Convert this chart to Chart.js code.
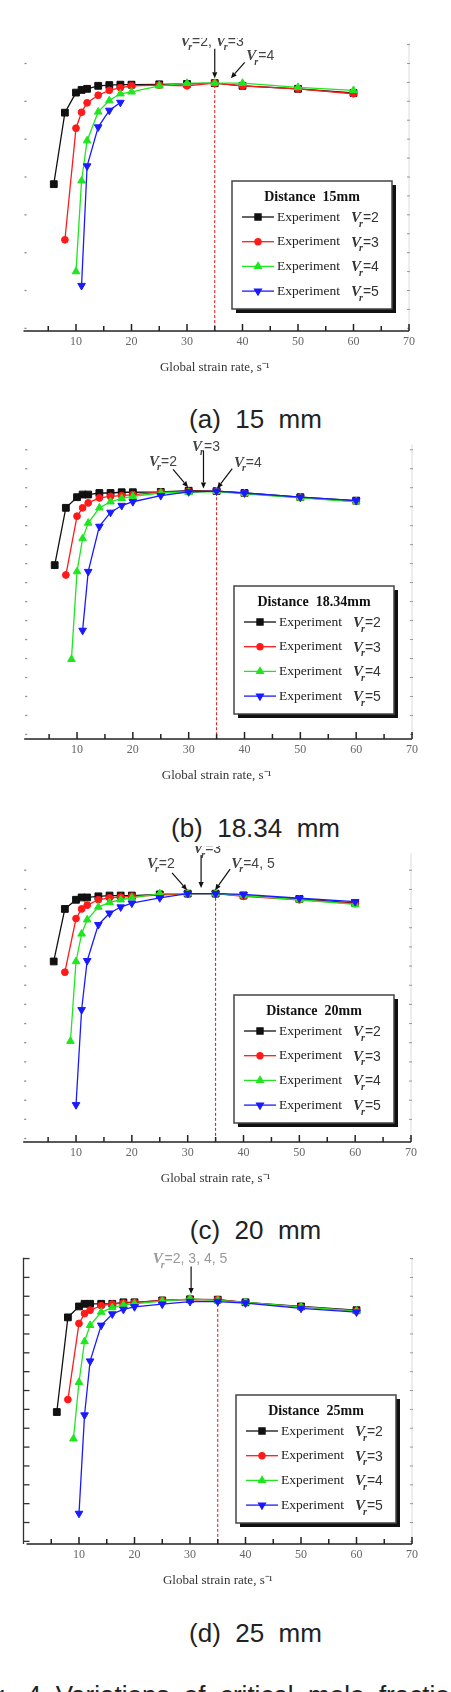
<!DOCTYPE html>
<html lang="en">
<head>
<meta charset="UTF-8">
<title>Critical mole fraction vs global strain rate</title>
<script src="https://cdn.jsdelivr.net/npm/chart.js"></script>
<style>
  * { margin: 0; padding: 0; box-sizing: border-box; }
  html, body { width: 451px; height: 1692px; overflow: hidden; background: #fff; }
  body { position: relative; font-family: 'Liberation Sans', Arial, sans-serif; }
  canvas { position: absolute; left: 0; }
  .caption { position: absolute; left: 30px; width: 451px; text-align: center; font-size: 26px; line-height: 30px; color: #222; white-space: pre; }
  .figtext { position: absolute; left: -31px; top: 1680px; font-size: 26px; line-height: 30px; color: #222; white-space: pre; }
</style>
</head>
<body>
<canvas id="chartA" width="451" height="353" style="top:38px"></canvas>
<div class="caption" style="top:404px">(a)  15  mm</div>
<canvas id="chartB" width="451" height="360" style="top:439px"></canvas>
<div class="caption" style="top:813px">(b)  18.34  mm</div>
<canvas id="chartC" width="451" height="356" style="top:846px"></canvas>
<div class="caption" style="top:1215px">(c)  20  mm</div>
<canvas id="chartD" width="451" height="352" style="top:1252px"></canvas>
<div class="caption" style="top:1618px">(d)  25  mm</div>
<div class="figtext">Fig.  4  Variations  of  critical  mole  fraction</div>

<script>
// global strain rate (s^-1) at which the runs were made
const rates = [6, 8, 9, 10, 11, 12, 14, 16, 18, 20, 25, 30, 35, 40, 50, 60];
const xTickValues = [10, 20, 30, 40, 50, 60, 70];
const vrValues = ['=2', '=3', '=4', '=5'];

// (a) distance 15 mm  (y axis labels are cropped off in the source, arbitrary units)
const aBlack = [3.88, 5.77, null, 6.30, 6.37, 6.40, 6.48, 6.50, 6.51, 6.51, 6.52, 6.53, 6.55, 6.48, 6.40, 6.29];
const aRed   = [null, 2.41, null, 5.36, 5.78, 6.03, 6.23, 6.36, 6.43, 6.48, 6.50, 6.48, 6.55, 6.48, 6.40, 6.27];
const aGreen = [null, null, null, 1.57, 3.97, 5.03, 5.79, 6.09, 6.27, 6.32, 6.48, 6.55, 6.55, 6.55, 6.44, 6.36];
const aBlue  = [null, null, null, null, 1.20, 4.36, 5.39, 5.83, 6.04, null, null, null, null, null, null, null];

// (b) distance 18.34 mm
const bBlack = [4.58, 6.09, null, 6.37, 6.44, 6.44, 6.48, 6.48, 6.50, 6.50, 6.51, 6.54, 6.53, 6.48, 6.37, 6.28];
const bRed   = [null, 4.32, null, 5.87, 6.09, 6.22, 6.35, 6.39, 6.41, 6.44, 6.50, 6.52, 6.53, 6.47, 6.36, 6.26];
const bGreen = [null, null, 2.10, 4.41, 5.28, 5.69, 6.09, 6.25, 6.34, 6.39, 6.48, 6.50, 6.52, 6.46, 6.35, 6.25];
const bBlue  = [null, null, null, null, 2.86, 4.41, 5.60, 5.97, 6.15, 6.25, 6.41, 6.51, 6.53, 6.48, 6.37, 6.28];

// (c) distance 20 mm
const cBlack = [4.71, 6.08, null, 6.32, 6.38, 6.38, 6.41, 6.43, 6.43, 6.43, 6.46, 6.48, 6.48, 6.43, 6.34, 6.23];
const cRed   = [null, 4.43, null, 5.83, 6.08, 6.18, 6.32, 6.37, 6.39, 6.41, 6.44, 6.48, 6.48, 6.41, 6.32, 6.22];
const cGreen = [null, null, 2.63, 4.71, 5.43, 5.80, 6.13, 6.25, 6.32, 6.37, 6.48, 6.48, 6.48, 6.43, 6.32, 6.20];
const cBlue  = [null, null, null, 0.97, 3.45, 4.73, 5.67, 5.97, 6.13, 6.23, 6.37, 6.48, 6.48, 6.46, 6.36, 6.27];

// (d) distance 25 mm
const dBlack = [3.50, 6.01, null, 6.30, 6.37, 6.37, 6.37, 6.37, 6.41, 6.41, 6.46, 6.49, 6.48, 6.41, 6.30, 6.20];
const dRed   = [null, 3.83, null, 5.85, 6.11, 6.20, 6.32, 6.36, 6.39, 6.40, 6.46, 6.49, 6.48, 6.40, 6.29, 6.18];
const dGreen = [null, null, 2.79, 4.29, 5.37, 5.80, 6.15, 6.27, 6.34, 6.37, 6.44, 6.50, 6.46, 6.41, 6.29, 6.18];
const dBlue  = [null, null, null, 0.81, 3.42, 4.85, 5.80, 6.10, 6.22, 6.29, 6.36, 6.43, 6.43, 6.39, 6.25, 6.15];

const colors = ['#111111', '#ff1a1a', '#1fe61f', '#1a1aff'];
const markers = [
  { style: 'rect', rot: 0, r: 4.8 },
  { style: 'circle', rot: 0, r: 3.4 },
  { style: 'triangle', rot: 0, r: 4.4 },
  { style: 'triangle', rot: 180, r: 4.4 }
];

const panels = [
  { id: 'chartA', title: 'Distance  15mm', values: [aBlack, aRed, aGreen, aBlue],
    left: 20.5, right: 409, padTop: 2, yMax: 7.59, tickStart: 0.07, leftStep: 1, leftLine: false,
    legend: { right: 17, bottom: 22 },
    notes: [
      { parts: ['Vr', '=2, ', 'Vr', '=3'], x: 34.5, y: 7.54, color: '#444' },
      { parts: ['Vr', '=4'], x: 43.2, y: 7.15, color: '#444' }
    ],
    arrows: [[35, 7.46, 35, 6.68], [40.4, 7.10, 37.9, 6.68]] },
  { id: 'chartB', title: 'Distance  18.34mm', values: [bBlack, bRed, bGreen, bBlue],
    left: 21.2, right: 412, padTop: 3, yMax: 7.75, tickStart: 0.12, leftStep: 0.5, leftLine: false,
    legend: { right: 18, bottom: 25 },
    notes: [
      { parts: ['Vr', '=2'], x: 25.4, y: 7.20, color: '#444' },
      { parts: ['Vr', '=3'], x: 33.1, y: 7.59, color: '#444' },
      { parts: ['Vr', '=4'], x: 40.6, y: 7.17, color: '#444' }
    ],
    arrows: [[27.2, 7.10, 29.9, 6.63], [32.65, 7.59, 32.65, 6.60], [37.8, 7.12, 35.1, 6.60]] },
  { id: 'chartC', title: 'Distance  20mm', values: [cBlack, cRed, cGreen, cBlue],
    left: 20.2, right: 411, padTop: 7, yMax: 7.54, tickStart: 0.09, leftStep: 0.5, leftLine: false,
    legend: { right: 17, bottom: 19 },
    notes: [
      { parts: ['Vr', '=2'], x: 25.2, y: 7.15, color: '#444' },
      { parts: ['Vr', '=3'], x: 33.5, y: 7.54, color: '#444' },
      { parts: ['Vr', '=4, 5'], x: 41.7, y: 7.15, color: '#444' }
    ],
    arrows: [[27.2, 7.02, 29.9, 6.57], [32.4, 7.49, 32.4, 6.63], [37.6, 7.12, 34.9, 6.57]] },
  { id: 'chartD', title: 'Distance  25mm', values: [dBlack, dRed, dGreen, dBlue],
    left: 23.5, right: 412, padTop: 1, yMax: 7.59, tickStart: 0.07, leftStep: 0.5, leftLine: true,
    legend: { right: 16, bottom: 21 },
    notes: [
      { parts: ['Vr', '=2, 3, 4, 5'], x: 30.0, y: 7.44, color: '#999' }
    ],
    arrows: [[30.2, 7.36, 30.2, 6.63]] }
];

Chart.defaults.font.family = "'Liberation Serif', serif";

function line(ctx, x1, y1, x2, y2) {
  ctx.beginPath(); ctx.moveTo(x1, y1); ctx.lineTo(x2, y2); ctx.stroke();
}

// "V" italic bold with subscript r, then plain text
function drawParts(ctx, parts, x, y, color, size, align) {
  const pieces = [];
  parts.forEach(p => {
    if (p === 'Vr') {
      pieces.push({ t: 'V', font: `italic bold ${size}px 'Liberation Serif'`, dy: 0, kern: -2 });
      pieces.push({ t: 'r', font: `italic bold ${Math.round(size * 0.65)}px 'Liberation Serif'`, dy: size * 0.3, kern: 0 });
    } else {
      pieces.push({ t: p, font: `${size - 1}px 'Liberation Sans'`, dy: 0, kern: 0 });
    }
  });
  let w = 0;
  pieces.forEach(p => { ctx.font = p.font; p.w = ctx.measureText(p.t).width + p.kern; w += p.w; });
  let cx = align === 'center' ? x - w / 2 : x;
  ctx.fillStyle = color;
  ctx.textAlign = 'left';
  ctx.textBaseline = 'alphabetic';
  pieces.forEach(p => { ctx.font = p.font; ctx.fillText(p.t, cx, y + p.dy); cx += p.w; });
}

function arrow(ctx, x1, y1, x2, y2) {
  ctx.strokeStyle = '#111'; ctx.fillStyle = '#111'; ctx.lineWidth = 1.2;
  const ang = Math.atan2(y2 - y1, x2 - x1);
  const hx = x2 - 6 * Math.cos(ang), hy = y2 - 6 * Math.sin(ang);
  line(ctx, x1, y1, hx, hy);
  ctx.beginPath();
  ctx.moveTo(x2, y2);
  ctx.lineTo(hx + 2.6 * Math.sin(ang), hy - 2.6 * Math.cos(ang));
  ctx.lineTo(hx - 2.6 * Math.sin(ang), hy + 2.6 * Math.cos(ang));
  ctx.closePath(); ctx.fill();
}

const framePlugin = {
  id: 'frame',
  beforeDatasetsDraw(chart, args, o) {
    const { ctx, chartArea: a, scales: { x, y } } = chart;
    ctx.save();
    // right axis, faint with small ticks
    ctx.strokeStyle = '#dcdcdc'; ctx.lineWidth = 1;
    line(ctx, a.right, a.top, a.right, a.bottom);
    ctx.strokeStyle = '#999';
    for (let v = o.tickStart; v <= o.yMax; v += 0.5) {
      const py = y.getPixelForValue(v);
      line(ctx, a.right - 2, py, a.right + 1, py);
    }
    // left axis ticks (labels cropped in the source)
    if (o.leftLine) {
      ctx.strokeStyle = '#333'; ctx.lineWidth = 1.3;
      line(ctx, a.left, a.top, a.left, a.bottom);
    }
    ctx.strokeStyle = o.leftLine ? '#333' : '#888'; ctx.lineWidth = 1.3;
    for (let v = o.tickStart; v <= o.yMax; v += o.leftStep) {
      const py = y.getPixelForValue(v);
      line(ctx, a.left + (o.leftLine ? 0 : 4), py, a.left + 6, py);
    }
    // red dashed line at 35 s^-1
    ctx.strokeStyle = '#e01010'; ctx.lineWidth = 1; ctx.setLineDash([3, 2]);
    const px35 = x.getPixelForValue(35);
    line(ctx, px35, y.getPixelForValue(6.5), px35, a.bottom);
    ctx.setLineDash([]);
    // x axis with inward ticks
    ctx.strokeStyle = '#222'; ctx.lineWidth = 1.5;
    line(ctx, a.left + 3, a.bottom, a.right, a.bottom);
    for (let v = 5; v <= 70; v += 5) {
      const px = x.getPixelForValue(v);
      line(ctx, px, a.bottom, px, a.bottom - (v % 10 === 0 ? 7 : 5));
    }
    ctx.restore();
  },
  afterDraw(chart, args, o) {
    const { ctx, chartArea: a, scales: { x, y } } = chart;
    ctx.save();
    // annotations
    o.notes.forEach(n => drawParts(ctx, n.parts, x.getPixelForValue(n.x), y.getPixelForValue(n.y), n.color, 15, 'center'));
    o.arrows.forEach(ar => arrow(ctx, x.getPixelForValue(ar[0]), y.getPixelForValue(ar[1]),
                                      x.getPixelForValue(ar[2]), y.getPixelForValue(ar[3])));
    // legend box
    const W = 160, H = 128;
    const bx = a.right - o.legend.right - W, by = a.bottom - o.legend.bottom - H;
    ctx.fillStyle = '#111'; ctx.fillRect(bx + 4, by + 4, W, H);
    ctx.fillStyle = '#fff'; ctx.fillRect(bx, by, W, H);
    ctx.strokeStyle = '#444'; ctx.lineWidth = 1.5; ctx.strokeRect(bx, by, W, H);
    ctx.fillStyle = '#111'; ctx.font = "bold 14px 'Liberation Serif'";
    ctx.textAlign = 'center'; ctx.textBaseline = 'middle';
    ctx.fillText(o.title, bx + W / 2, by + 16);
    colors.forEach((c, i) => {
      const ry = by + 36 + i * 24.7;
      ctx.strokeStyle = c; ctx.fillStyle = c; ctx.lineWidth = 1.3;
      line(ctx, bx + 10, ry, bx + 42, ry);
      Chart.helpers.drawPoint(ctx, { pointStyle: markers[i].style, rotation: markers[i].rot,
        radius: markers[i].r * 0.9, borderWidth: 1 }, bx + 26, ry);
      ctx.fillStyle = '#222'; ctx.font = "13.5px 'Liberation Serif'";
      ctx.textAlign = 'left'; ctx.textBaseline = 'middle';
      ctx.fillText('Experiment', bx + 45, ry);
      drawParts(ctx, ['Vr', vrValues[i]], bx + 119, ry + 5, '#333', 15, 'left');
    });
    ctx.restore();
  }
};

panels.forEach(p => {
  const datasets = p.values.map((vals, i) => ({
    label: 'Experiment Vr' + vrValues[i],
    data: rates.map((r, k) => ({ x: r, y: vals[k] })).filter(pt => pt.y !== null),
    borderColor: colors[i],
    backgroundColor: colors[i],
    borderWidth: 1.3,
    pointStyle: markers[i].style,
    pointRotation: markers[i].rot,
    pointRadius: markers[i].r,
    pointBorderWidth: 1,
    tension: 0,
    order: 4 - i
  }));
  new Chart(document.getElementById(p.id), {
    type: 'line',
    data: { datasets },
    options: {
      responsive: false,
      animation: false,
      layout: { padding: { left: p.left, right: 451 - p.right, top: p.padTop, bottom: 0 } },
      plugins: {
        legend: { display: false },
        tooltip: { enabled: false },
        frame: { title: p.title, notes: p.notes, arrows: p.arrows, legend: p.legend,
                 yMax: p.yMax, tickStart: p.tickStart, leftStep: p.leftStep, leftLine: p.leftLine }
      },
      scales: {
        x: {
          type: 'linear', min: 0, max: 70,
          grid: { display: false, drawTicks: false },
          border: { display: false },
          ticks: {
            stepSize: 10, padding: 4, color: '#666',
            font: { family: "'Liberation Serif'", size: 12 },
            callback: v => xTickValues.includes(v) ? String(v) : ''
          },
          title: {
            display: true, text: 'Global strain rate, s\u207B\u00B9', color: '#333',
            font: { family: "'Liberation Serif'", size: 13 },
            padding: { top: 0, bottom: 16 }
          },
          afterFit: s => { s.height = 60; }
        },
        y: { display: false, min: 0, max: p.yMax }
      }
    },
    plugins: [framePlugin]
  });
});
</script>
</body>
</html>
